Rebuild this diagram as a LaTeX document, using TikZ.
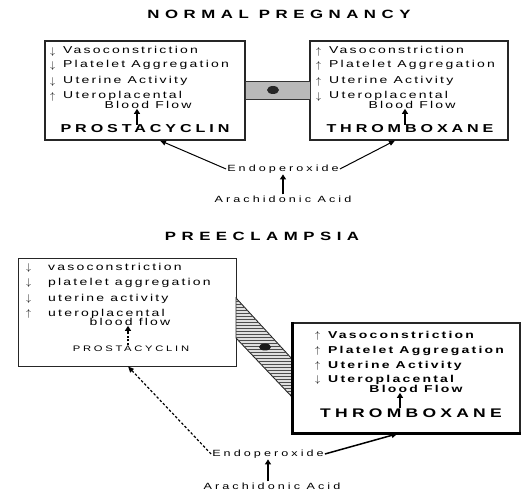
\documentclass[tikz,border=0pt]{standalone}
\usepackage{fontspec}
\usepackage{tikz}
\usetikzlibrary{arrows.meta,patterns}
\newfontfamily\txtfont[FakeStretch=1.4,LetterSpace=22]{Liberation Sans}
\newfontfamily\capfont[FakeStretch=1.4,LetterSpace=34]{Liberation Sans}
\newfontfamily\ttlfont[FakeStretch=1.4,LetterSpace=46]{Liberation Sans}
\newcommand{\upmark}[1][13pt]{\makebox[#1][l]{\raisebox{-0.5pt}{$\uparrow$}}}
\newcommand{\dnmark}[1][13pt]{\makebox[#1][l]{\raisebox{-0.5pt}{$\downarrow$}}}

\begin{document}
\begin{tikzpicture}[x=1pt,y=-1pt,
	box/.style={draw=black!85, line width=1.1pt, inner sep=0pt},
	item/.style={anchor=west, inner sep=0pt, font=\txtfont\fontsize{10}{12}\selectfont},
	boitem/.style={item, font=\txtfont\bfseries\fontsize{10}{12}\selectfont},
	ttl/.style={inner sep=0pt, font=\ttlfont\bfseries\fontsize{12}{14}\selectfont},
	agent/.style={inner sep=0pt, font=\capfont\bfseries\fontsize{11.5}{14}\selectfont},
	lbl/.style={inner sep=1pt, font=\capfont\fontsize{9}{11}\selectfont},
	heavy/.style={-{Triangle[width=6pt,length=5pt]}, line width=1.6pt},
	slim/.style={-{Triangle[width=5pt,length=6pt]}, line width=1pt}]
	\useasboundingbox (0,0) rectangle (523,494);

	% normal pregnancy
	\node [ttl] (ttlN) at (279,14) {NORMAL PREGNANCY};
	\node [box, minimum width=200pt, minimum height=99pt] (pcBoxN) at (145,90.5) {};
	\node [box, minimum width=198pt, minimum height=99pt] (txBoxN) at (409,90.5) {};
	\filldraw [fill=gray!55, draw=black!80, line width=0.8pt] (245,81) rectangle (310,99);
	\fill [black!85] (273,90) ellipse [x radius=6pt, y radius=4pt];

	\node [item] (pcN1) at (50,51.5) {\dnmark Vasoconstriction};
	\node [item] (pcN2) at (50,65.5) {\dnmark Platelet Aggregation};
	\node [item] (pcN3) at (50,81.5) {\dnmark Uterine Activity};
	\node [item] (pcN4) at (50,96.5) {\upmark Uteroplacental};
	\node [item, anchor=center] (pcN5) at (148,105) {Blood Flow};
	\node [agent] (pcNm) at (145,129) {PROSTACYCLIN};
	\draw [heavy] ([xshift=-8pt]pcNm.north) -- ([xshift=-11pt]pcN5.south);

	\node [item] (txN1) at (316,51.5) {\upmark Vasoconstriction};
	\node [item] (txN2) at (316,65.5) {\upmark Platelet Aggregation};
	\node [item] (txN3) at (316,81.5) {\upmark Uterine Activity};
	\node [item] (txN4) at (316,96.5) {\dnmark Uteroplacental};
	\node [item, anchor=center] (txN5) at (412,105) {Blood Flow};
	\node [agent] (txNm) at (410,129) {THROMBOXANE};
	\draw [heavy] ([xshift=-5pt]txNm.north) -- ([xshift=-7pt]txN5.south);

	\node [lbl] (endoN) at (283,169) {Endoperoxide};
	\node [lbl] (acidN) at (283,199) {Arachidonic Acid};
	\draw [heavy] (acidN) -- (endoN);
	\draw [slim] (endoN.west) -- ([xshift=15pt]pcBoxN.south);
	\draw [slim] (endoN.east) -- ([xshift=-14pt]txBoxN.south);

	% preeclampsia
	\node [ttl] (ttlP) at (262,236) {PREECLAMPSIA};
	\node [box, line width=0.8pt, minimum width=218pt, minimum height=108pt] (pcBoxP) at (127,312) {};
	\filldraw [fill=gray!25, draw=black!85, line width=0.9pt] (236,298) -- (293,360) -- (293,398) -- (236,338) -- cycle;
	\fill [pattern=horizontal lines, pattern color=black!70] (236,298) -- (293,360) -- (293,398) -- (236,338) -- cycle;
	\fill [black!90] (265,347) ellipse [x radius=6pt, y radius=3.5pt];
	\node [box, line width=1.5pt, fill=white, minimum width=227pt, minimum height=110pt] (txBoxP) at (406.5,378) {};
	\draw [line width=3.5pt] (txBoxP.north west) -- (txBoxP.south west) -- (txBoxP.south east);

	\node [item] (pcP1) at (26,268) {\dnmark[22pt]vasoconstriction};
	\node [item] (pcP2) at (26,283) {\dnmark[22pt]platelet aggregation};
	\node [item] (pcP3) at (26,299) {\dnmark[22pt]uterine activity};
	\node [item] (pcP4) at (26,314) {\upmark[22pt]uteroplacental};
	\node [item, anchor=center] (pcP5) at (130,322) {blood flow};
	\node [lbl, font=\capfont\fontsize{8}{10}\selectfont] (pcPm) at (131,349) {PROSTACYCLIN};
	\draw [heavy, line width=1.2pt, dash pattern=on 2pt off 1.5pt] ([xshift=-3pt]pcPm.north) -- ([xshift=-2pt]pcP5.south);

	\node [boitem] (txP1) at (315,336) {\upmark Vasoconstriction};
	\node [boitem] (txP2) at (315,351) {\upmark Platelet Aggregation};
	\node [boitem] (txP3) at (315,366) {\upmark Uterine Activity};
	\node [boitem] (txP4) at (315,380) {\dnmark Uteroplacental};
	\node [boitem, anchor=center] (txP5) at (416,389) {Blood Flow};
	\node [agent, font=\capfont\bfseries\fontsize{12.5}{14}\selectfont] (txPm) at (411,413) {THROMBOXANE};
	\draw [heavy] ([xshift=-11pt]txPm.north) -- ([xshift=-16pt]txP5.south);

	\node [lbl] (endoP) at (268,454) {Endoperoxide};
	\node [lbl] (acidP) at (272,486) {Arachidonic Acid};
	\draw [heavy] ([xshift=-4pt]acidP.north) -- (endoP);
	\draw [slim, line width=1.2pt, dash pattern=on 2.5pt off 2pt] (endoP.west) -- ([xshift=1pt]pcBoxP.south);
	\draw [slim, line width=1.5pt] (endoP.east) -- ([xshift=-9pt]txBoxP.south);
\end{tikzpicture}
\end{document}
